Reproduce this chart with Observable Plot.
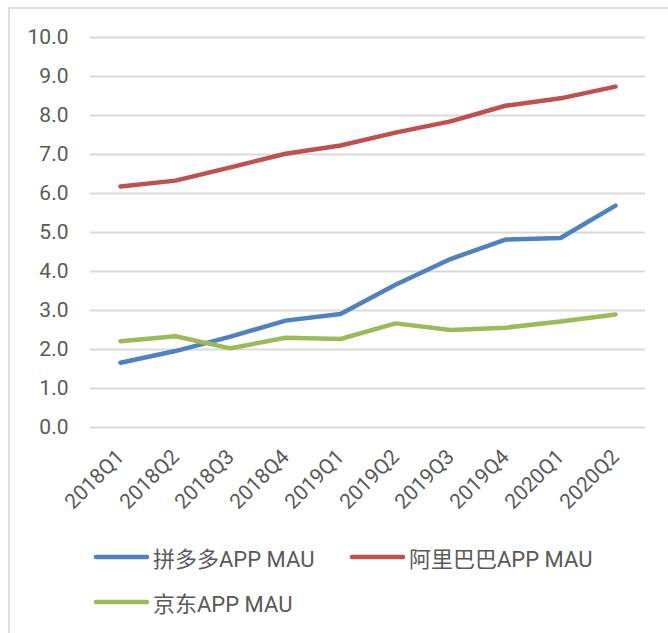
<!DOCTYPE html>
<html>
<head>
<meta charset="utf-8">
<script src="https://cdn.jsdelivr.net/npm/d3@7"></script>
<script src="https://cdn.jsdelivr.net/npm/@observablehq/plot@0.6"></script>
<style>
  html, body { margin: 0; padding: 0; background: #fff; }
  #wrap { position: relative; width: 668px; height: 633px; overflow: hidden;
          font-family: Roboto, "Noto Sans CJK SC", sans-serif; color: #595959; }
  #frame { position: absolute; left: 8px; top: 7px; right: -4px; bottom: -4px;
           border-top: 2px solid #dedede; border-left: 2px solid #dedede; pointer-events: none; }
  #chart { position: absolute; left: 0; top: 0; }
  .item { position: absolute; display: flex; align-items: center; font-size: 22px; white-space: nowrap; }
  .item svg { display: block; margin-right: 3px; }
</style>
</head>
<body>
<div id="wrap">
  <div id="chart"></div>
  <div id="frame"></div>
</div>
<script>
const quarters = ["2018Q1","2018Q2","2018Q3","2018Q4","2019Q1","2019Q2","2019Q3","2019Q4","2020Q1","2020Q2"];
const seriesNames = ["拼多多APP MAU", "阿里巴巴APP MAU", "京东APP MAU"];
const seriesColors = ["#4f81bd", "#c0504d", "#9bbb59"];
const pdd = [1.66, 1.96, 2.33, 2.74, 2.91, 3.66, 4.32, 4.82, 4.86, 5.69];
const ali = [6.18, 6.33, 6.67, 7.02, 7.23, 7.56, 7.85, 8.25, 8.44, 8.74];
const jd  = [2.21, 2.34, 2.03, 2.30, 2.27, 2.67, 2.50, 2.56, 2.72, 2.90];
const yTicks = [0,1,2,3,4,5,6,7,8,9,10];

const seriesValues = [pdd, ali, jd];
const data = [];
seriesNames.forEach((name, i) => {
  quarters.forEach((q, j) => data.push({series: name, quarter: q, value: seriesValues[i][j]}));
});

const chart = Plot.plot({
  width: 668,
  height: 530,
  marginLeft: 90,
  marginRight: 23,
  marginTop: 37,
  marginBottom: 103,
  style: {fontFamily: 'Roboto, "Noto Sans CJK SC", sans-serif', fontSize: "21px", color: "#595959", background: "transparent"},
  x: {type: "point", domain: quarters, padding: 0.5, label: null},
  y: {domain: [0, 10], label: null},
  color: {domain: seriesNames, range: seriesColors},
  marks: [
    Plot.gridY(yTicks, {stroke: "#d9d9d9", strokeOpacity: 1, strokeWidth: 2}),
    Plot.axisY(yTicks, {tickSize: 0, tickPadding: 22, tickFormat: d => d.toFixed(1), label: null, fill: "#595959", fontSize: 21}),
    Plot.axisX(quarters, {tickSize: 0, tickRotate: -45, tickPadding: 26, label: null, fill: "#595959", fontSize: 21}),
    Plot.line(data, {x: "quarter", y: "value", z: "series", stroke: "series", strokeWidth: 4.5, strokeLinecap: "round", strokeLinejoin: "round"})
  ]
});
document.getElementById("chart").appendChild(chart);

const legendPos = [[93, 557], [349, 557], [93, 602]];
const wrap = document.getElementById("wrap");
seriesNames.forEach((name, i) => {
  const it = document.createElement("div");
  it.className = "item";
  it.style.left = legendPos[i][0] + "px";
  it.style.top = (legendPos[i][1] - 16) + "px";
  it.style.height = "32px";
  it.innerHTML = `<svg width="57" height="8"><line x1="3" y1="4" x2="54" y2="4" stroke="${seriesColors[i]}" stroke-width="4.5" stroke-linecap="round"/></svg><span>${name}</span>`;
  wrap.appendChild(it);
});
</script>
</body>
</html>
